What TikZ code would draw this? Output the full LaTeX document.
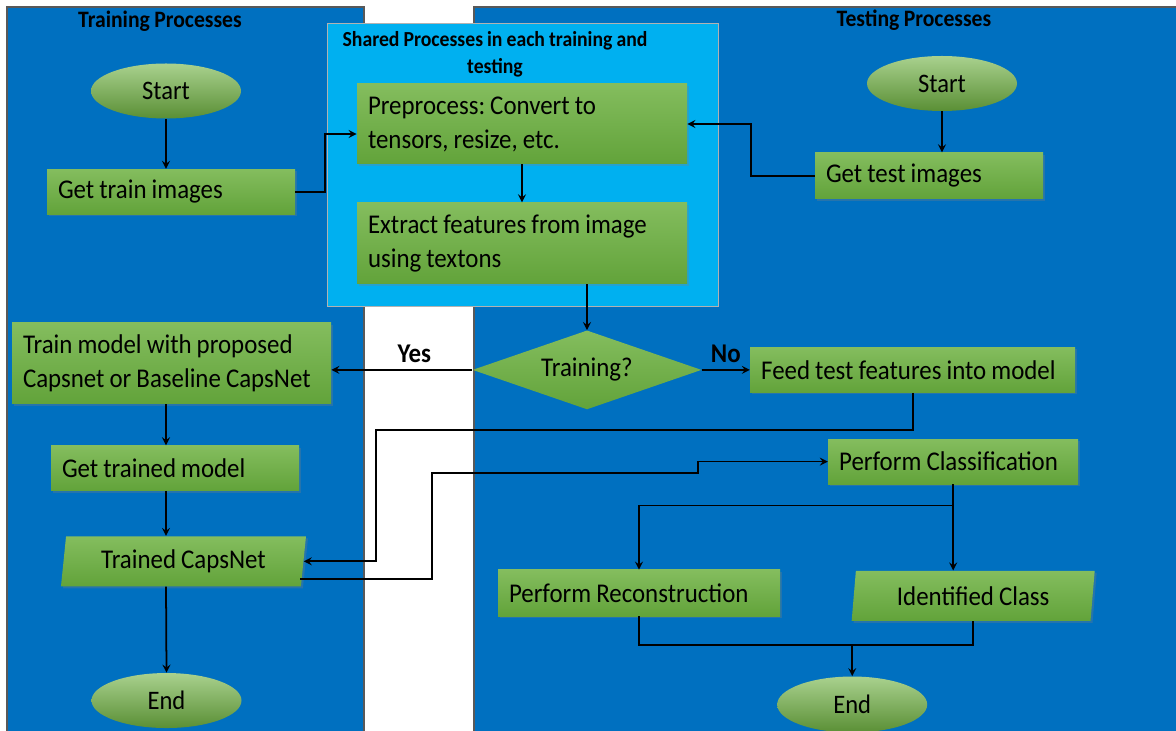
\documentclass[tikz,border=0pt]{standalone}
\usepackage{fontspec}
\setmainfont{Carlito}[FakeStretch=0.92, WordSpace=0.9]
\usetikzlibrary{shapes.geometric, arrows, positioning, shadows}
\frenchspacing
\definecolor{laneblue}{HTML}{0070C0}
\definecolor{sharedblue}{HTML}{00B0F0}
\definecolor{boxtop}{HTML}{84BD5E}
\definecolor{boxbot}{HTML}{62A33A}
\definecolor{ovaltop}{HTML}{A9D18E}
\definecolor{ovalbot}{HTML}{5A8F35}
\tikzstyle{startstop} = [ellipse, minimum width=3cm, minimum height=1.1cm, inner sep=0pt, top color=ovaltop, bottom color=ovalbot, font=\fontsize{15.2}{17}\selectfont]
\tikzstyle{stepbox} = [rectangle, minimum height=0.9cm, inner xsep=0.22cm, inner ysep=2pt, align=flush left, top color=boxtop, bottom color=boxbot, drop shadow={opacity=0.3, shadow xshift=0.04cm, shadow yshift=-0.04cm}, font=\fontsize{15.4}{19.3}\selectfont]
\tikzstyle{io} = [trapezium, trapezium left angle=77.6, trapezium right angle=102.4, trapezium stretches body, minimum width=4.9cm, minimum height=1cm, inner sep=0pt, top color=boxtop, bottom color=boxbot, drop shadow={opacity=0.3, shadow xshift=0.04cm, shadow yshift=-0.04cm}, font=\fontsize{15.4}{17}\selectfont]
\tikzstyle{decision} = [diamond, aspect=2.9, minimum width=4.58cm, minimum height=1.58cm, inner sep=1pt, top color=boxtop, bottom color=boxbot, font=\fontsize{15.4}{17}\selectfont]
\tikzstyle{lane} = [draw=black!65, line width=0.6pt, fill=laneblue]
\tikzstyle{title} = [font=\fontsize{13.4}{15}\selectfont\bfseries]
\tikzstyle{answer} = [font=\fontsize{15.4}{17}\selectfont\bfseries]
\tikzstyle{arrow} = [line width=1pt,->,>=stealth]
\tikzstyle{wire} = [line width=1pt]

\begin{document}
\hyphenpenalty=10000
\begin{tikzpicture}[node distance=1cm]
\useasboundingbox (0,0) rectangle (23.52,14.6);
\clip (0,0) rectangle (23.52,14.6);
% lanes
\draw[lane] (0.14,-0.5) rectangle (7.28,14.46);
\draw[lane] (9.48,-0.5) rectangle (24,14.46);
\draw[draw=black!30, line width=0.5pt, fill=sharedblue] (6.54,8.48) rectangle (14.36,14.14);

\node (ttrain) [title] at (3.2,14.18) {Training Processes};
\node (ttest) [title] at (18.28,14.2) {Testing Processes};
\node (tshared) [align=center, font=\fontsize{12.2}{15.3}\selectfont\bfseries] at (9.9,13.51) {Shared Processes in each training and\\testing};

% training side
\node (tstart) [startstop] at (3.32,12.78) {Start};
\node (trainimg) [stepbox, text width=4.52cm, below=1.0cm of tstart, xshift=0.1cm] {Get train images};
\node (trainmodel) [stepbox, text width=5.94cm, minimum height=1.62cm, below=2.16cm of trainimg, xshift=0.01cm] {Train model with proposed\\Capsnet or Baseline CapsNet};
\node (trained) [stepbox, text width=4.52cm, below=0.82cm of trainmodel, xshift=0.07cm] {Get trained model};
\node (capsnet) [io, below=0.9cm of trained, xshift=0.17cm] {Trained CapsNet};
\node (tend) [startstop, below=1.72cm of capsnet, xshift=-0.34cm] {End};

% shared
\node (prep) [stepbox, text width=6.16cm, minimum height=1.6cm] at (10.44,12.12) {Preprocess: Convert to\\tensors, resize, etc.};
\node (extract) [stepbox, text width=6.16cm, minimum height=1.62cm, below=0.76cm of prep] {Extract features from image\\using textons};
\node (decide) [decision, below=0.92cm of extract, xshift=1.3cm] {Training?};

% testing side
\node (sstart) [startstop] at (18.84,12.93) {Start};
\node (testimg) [stepbox, text width=4.12cm, minimum height=0.92cm, below=0.82cm of sstart, xshift=-0.26cm] {Get test images};
\node (feed) [stepbox, text width=6.06cm, right=0.96cm of decide] {Feed test features into model};
\node (class) [stepbox, text width=4.56cm, below=0.92cm of feed, xshift=0.81cm] {Perform Classification};
\node (ident) [io, minimum width=4.86cm, below=1.72cm of class, xshift=0.4cm] {Identified Class};
\node (recon) [stepbox, text width=5.2cm, minimum height=0.92cm] at (12.78,2.74) {Perform Reconstruction};
\node (send) [startstop, minimum height=1.12cm, below=1.1cm of ident, xshift=-2.42cm] {End};
\coordinate (merge) at ([yshift=-0.58cm]recon.south);

\draw [arrow] (tstart.south) -- (tstart.south |- trainimg.north);
\draw [arrow] (trainimg.east) -- ++(0.6,0) |- ([yshift=-0.2cm]prep.west);
\draw [arrow] (prep) -- (extract);
\draw [arrow] (extract.south -| decide.north) -- (decide.north);
\draw [arrow] (sstart.south) -- (sstart.south |- testimg.north);
\draw [arrow] (testimg.west) -- ++(-1.28,0) |- (prep.east);

\draw [arrow] (decide.west) -- node[answer, above, pos=0.41] {Yes} (decide.west -| trainmodel.east);
\draw [arrow] (decide.east) -- node[answer, above] {No} (decide.east -| feed.west);

\draw [arrow] (trainmodel.south -| tstart.south) -- (trained.north -| tstart.south);
\draw [arrow] (trained.south -| tstart.south) -- (capsnet.north -| tstart.south);
\draw [arrow] (capsnet.south -| tstart.south) -- (tend.north);

\draw [arrow] (feed.south) -- ++(0,-0.74) -| ([xshift=1.44cm]capsnet.east) -- (capsnet.east);
\draw [arrow] ([xshift=-0.07cm, yshift=-0.36cm]capsnet.east) -- ++(2.63,0) -- ++(0,2.12) -- ++(5.32,0) |- (class.west);

\draw [arrow] (class.south) -- (class.south |- ident.north);
\draw [arrow] (class.south) -- ++(0,-0.42) -| (recon.north);
\draw [wire] (recon.south) -- (merge) -| (ident.south);
\draw [arrow] (send.north |- merge) -- (send.north);
\end{tikzpicture}
\end{document}
